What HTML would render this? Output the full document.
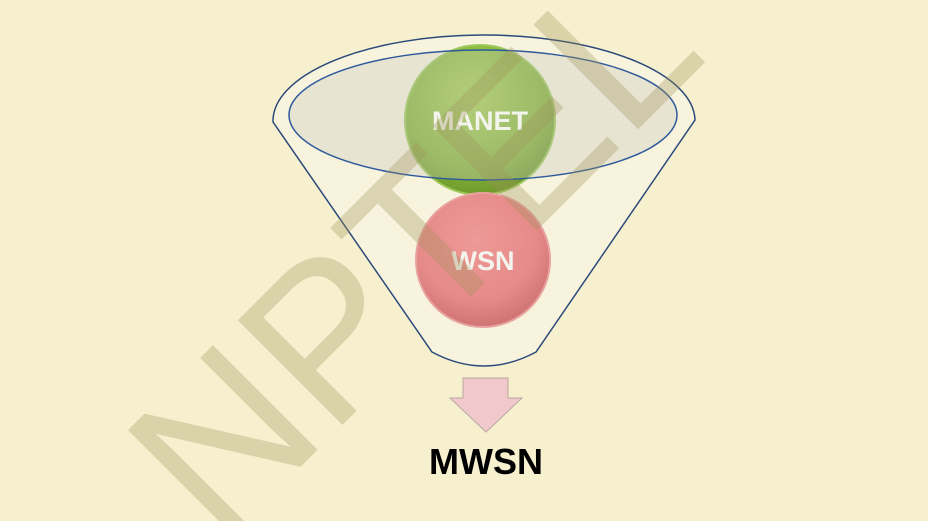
<!DOCTYPE html>
<html><head><meta charset="utf-8"><style>
html,body{margin:0;padding:0;width:928px;height:521px;overflow:hidden;background:#f6f0cf;}
svg{position:absolute;left:0;top:0}
</style></head><body>
<svg width="928" height="521" viewBox="0 0 928 521">
<defs>
<radialGradient id="g" cx="45%" cy="35%" r="65%">
<stop offset="0" stop-color="#a8d157"/><stop offset="0.7" stop-color="#86b53a"/><stop offset="1" stop-color="#6f9a2c"/></radialGradient>
<radialGradient id="r" cx="45%" cy="35%" r="65%">
<stop offset="0" stop-color="#ee9a98"/><stop offset="0.7" stop-color="#e58a88"/><stop offset="1" stop-color="#cf7472"/></radialGradient>
</defs>
<path d="M273,122 L432,352 Q484,380 536,352 L695,120 A211,86 0 0 0 273,122 Z" fill="#f8f3dc" stroke="#2b4a7a" stroke-width="1.5"/>
<circle cx="480" cy="120" r="75" fill="url(#g)" stroke="#9cc85a" stroke-width="2"/>
<circle cx="483" cy="260" r="67" fill="url(#r)" stroke="#e8a3a1" stroke-width="2"/>
<ellipse cx="483" cy="115" rx="194" ry="65" fill="rgba(200,200,190,0.35)" stroke="#2e5a9c" stroke-width="1.5"/>
<text x="480" y="130" text-anchor="middle" font-family="Liberation Sans, sans-serif" font-weight="bold" font-size="27" fill="#f4f4ee">MANET</text>
<text x="483" y="270" text-anchor="middle" font-family="Liberation Sans, sans-serif" font-weight="bold" font-size="27" fill="#f4f4ee">WSN</text>
<path d="M463,378 L508,378 L508,398 L522,398 L486,432 L450,398 L463,398 Z" fill="#f1c9cd" stroke="#b9a8a0" stroke-width="1"/>
<text x="486" y="474" text-anchor="middle" font-family="Liberation Sans, sans-serif" font-weight="bold" font-size="36" fill="#000">MWSN</text>
<text transform="translate(425,262) rotate(-45)" text-anchor="middle" font-family="Liberation Sans, sans-serif" font-size="215" fill="rgba(160,145,90,0.32)" dominant-baseline="middle">NPTEL</text>
</svg>
</body></html>
